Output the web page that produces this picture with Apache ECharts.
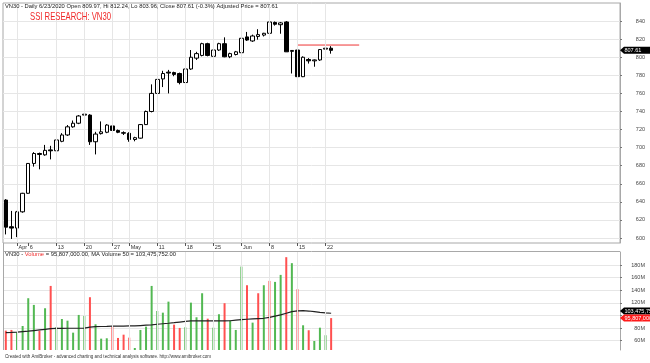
<!DOCTYPE html>
<html><head><meta charset="utf-8">
<script src="https://cdn.jsdelivr.net/npm/echarts@6/dist/echarts.min.js"></script>
<style>html,body{margin:0;padding:0;background:#fff}#c{width:650px;height:363px}</style>
</head><body><div id="c"></div>
<script>
// ---------------- DATA ----------------
const dates = ['3/30','3/31','4/1','4/3','4/6','4/7','4/8','4/9','4/10','4/13','4/14','4/15','4/16','4/17',
  '4/20','4/21','4/22','4/23','4/24','4/27','4/28','4/29','5/4','5/5','5/6','5/7','5/8','5/11','5/12','5/13',
  '5/14','5/15','5/18','5/19','5/20','5/21','5/22','5/25','5/26','5/27','5/28','5/29','6/1','6/2','6/3','6/4',
  '6/5','6/8','6/9','6/10','6/11','6/12','6/15','6/16','6/17','6/18','6/19','6/22','6/23'];
const open  = [642,612.5,611,629,649.5,682.5,693.5,692,697.5,696.5,707,714,723,727,736,736,706.5,715.5,717,724,
  719,716.5,715.8,709,710.5,725.5,740,760,776,783.5,783,782,772,787,799,802,815,801,808,815,
  800.5,803,805,822.5,818,823,824.5,826.5,838.5,836,839,806.5,808,778.5,797.5,796,797,809,809.97];
const high  = [643,630,630,650,683,695,694.5,703,702,714,716,725,730,736,742,737,717.5,729,726,735,
  720,718,717,712,726,741,770,776,785,786,784,783,788,808,806,816,816,809,816,822,
  805,807,822,828,825,831,827,845.5,839.5,839,840,808,809,801,799,797.5,809,812,812.24];
const low   = [604,599,601,628,649,679,676,691,687,696,706,713,722,726,732,703,692.5,714.5,716,717,
  716,714,706.5,707,710,725,739,759,767,760,779,770,770,786,797,801,801,799,807,800,
  799,802,804,818,817,819.5,823,825,835,826,806,782,778,778,793,789.5,796,807,803.96];
const close = [612,611,629,649.5,682.5,693.5,692.5,697,696.5,708.5,714,723,727,735,737,706.5,715,717.5,725,719,
  717,716,709,711,725.5,740,760,775.5,782,782.5,781,772,787,800,804,815,802,808,815,800.5,
  804,806,821,819,823.5,825,826.5,839,836.5,838,806,807.5,778.5,800,796,797,808.5,810,807.61];
// volume in millions of shares
const volume = [75.9,77,72.7,83.3,127.3,116.7,75.9,111.4,146.8,81.3,94.4,91.7,72.7,100.8,99.2,128.9,86,63.2,63.8,82.2,
  64.3,69.5,64.8,48.4,77,82.2,146.8,107.1,104.4,121.9,85.4,80.2,81.3,120.3,97.1,135.2,94.9,80.6,101.9,119.4,
  91.7,77,177.5,147.9,88.6,135.2,147.9,154.8,153.2,164.3,192.4,182.9,141.6,84.4,76.5,59.5,80.6,68.6,95.807];
const volumeMA50 = [72.7,73,73.5,74.3,75,76,77,78,79,79.5,79.6,79.7,79.7,79.7,80,81.5,82.2,82.5,82.7,83,
  83,83.2,83.3,83.3,84,84.5,85,86,86.8,87.6,88.5,89.5,90.5,91.3,91.3,91.3,91.4,91.4,91.5,91.5,
  91.6,92.5,93.3,94,94.5,95,95.5,97,99,100.8,103.5,106,107.2,107.6,107,106,105,104.2,103.475];
// u = green bar, d = red bar
const volumeDir = 'dduuuududu' + 'uuuuuduuud' + 'ddduuuuuuu' + 'dduuuuduud' + 'uuudududuu' + 'dududuuud';
const priceTicks = [600,620,640,660,680,700,720,740,760,780,800,820,840];
const volumeTicks = [60,80,100,120,140,160,180];
const volumeLabelTicks = [60,80,120,140,160,180];
const dateTicks = ['4/1','4/6','4/13','4/20','4/27','5/4','5/11','5/18','5/25','6/1','6/8','6/15','6/22'];
const dateTickText = ['Apr','6','13','20','27','May','11','18','25','Jun','8','15','22'];
const gridDates = ['4/1','4/13','4/20','4/27','5/4','5/11','5/18','5/25','6/1','6/8','6/15','6/22'];
const resistanceLevel = 813.5;
const resistanceFrom = 52;   // category slot index (6/15)
const resistanceTo = 63;     // category slot index (empty future slot)
const lastClose = 807.61;
const headerText = 'VN30 - Daily 6/23/2020 Open 809.97, Hi 812.24, Lo 803.96, Close 807.61 (-0.3%) Adjusted Price = 807.61';
const titleText = 'SSI RESEARCH: VN30';
const volHeadA = 'VN30 - ', volHeadB = 'Volume', volHeadC = ' = 95,807,000.00, MA Volume 50 = 103,475,752.00';
const volumeTagText = '95,807,000.00', maTagText = '103,475,752.00';
const footerText = 'Created with AmiBroker - advanced charting and technical analysis software. http://www.amibroker.com';

// ---------------- CHART ----------------
const FONT = '"Liberation Sans", Arial, sans-serif';
const N_SLOTS = 110;
const cats = dates.concat(Array.from({length: N_SLOTS - dates.length}, (_, i) => '_' + i));
const candleData = dates.map((d, i) => [open[i], close[i], low[i], high[i]]);
const volData = volume.map((v, i) => ({value: v, itemStyle: {color: volumeDir[i] === 'u' ? '#52b852' : '#ff5050'}}));
const tickSet = new Set(dateTicks);
const nulls = cats.map(() => null);

function measure(text, size) {
  const c = document.createElement('canvas').getContext('2d');
  c.font = size + 'px ' + FONT;
  return c.measureText(text).width;
}
function fitText(text, x, y, size, targetW, fill, extra) {
  const s = targetW / measure(text, size);
  return Object.assign({type: 'text', x: x, y: y, scaleX: s, z: 100,
    style: {text: text, fill: fill, fontSize: size, fontFamily: FONT, align: 'left', verticalAlign: 'middle'}}, extra || {});
}

const chart = echarts.init(document.getElementById('c'));
const gridLineStyle = {color: '#e6e6e6', width: 1, type: 'solid'};
chart.setOption({
  animation: false,
  backgroundColor: '#ffffff',
  grid: [
    {left: 3, top: 3, width: 617, height: 240, show: true, borderColor: '#a8a8a8', borderWidth: 1},
    {left: 3, top: 252, width: 617, height: 98, show: false}
  ],
  xAxis: [
    {type: 'category', gridIndex: 0, data: cats, boundaryGap: true,
      axisLine: {show: false},
      axisTick: {show: true, alignWithLabel: true, interval: (i, v) => tickSet.has(v), length: 3, lineStyle: {color: '#555'}},
      axisLabel: {show: true, interval: (i, v) => tickSet.has(v), formatter: v => dateTickText[dateTicks.indexOf(v)],
        fontSize: 5.5, color: '#333', align: 'left', margin: 1.5, padding: [0, 0, 0, 1.5], fontFamily: FONT},
      splitLine: {show: false}},
    {type: 'category', gridIndex: 1, data: cats, boundaryGap: true,
      axisLine: {show: false}, axisTick: {show: false}, axisLabel: {show: false}, splitLine: {show: false}}
  ],
  yAxis: [
    {type: 'value', gridIndex: 0, position: 'right', min: 594.5, max: 860, scale: true,
      axisLine: {show: true, lineStyle: {color: '#a8a8a8'}},
      axisTick: {show: true, length: 2, customValues: priceTicks, lineStyle: {color: '#777'}},
      axisLabel: {customValues: priceTicks, fontSize: 5.5, color: '#444', align: 'right', margin: 25, fontFamily: FONT},
      splitLine: {show: true, lineStyle: gridLineStyle}},
    {type: 'value', gridIndex: 1, position: 'right', min: 45.2, max: 200.6, scale: true,
      axisLine: {show: true, lineStyle: {color: '#a8a8a8'}},
      axisTick: {show: true, length: 2, customValues: volumeTicks, lineStyle: {color: '#777'}},
      axisLabel: {customValues: volumeLabelTicks, formatter: v => v + 'M', fontSize: 5.5, color: '#444', align: 'right', margin: 25, fontFamily: FONT},
      splitLine: {show: true, lineStyle: gridLineStyle}}
  ],
  series: [
    {type: 'line', xAxisIndex: 0, yAxisIndex: 0, data: nulls, z: 1, silent: true, showSymbol: false,
      markLine: {silent: true, symbol: 'none', label: {show: false}, lineStyle: gridLineStyle, animation: false,
        data: gridDates.map(d => ({xAxis: d}))}},
    {type: 'line', xAxisIndex: 1, yAxisIndex: 1, data: nulls, z: 1, silent: true, showSymbol: false,
      markLine: {silent: true, symbol: 'none', label: {show: false}, lineStyle: gridLineStyle, animation: false,
        data: gridDates.map(d => ({xAxis: d}))}},
    {type: 'candlestick', xAxisIndex: 0, yAxisIndex: 0, data: candleData, barWidth: 4, z: 3,
      itemStyle: {color: '#ffffff', color0: '#000000', borderColor: '#000000', borderColor0: '#000000', borderWidth: 1}},
    {type: 'line', xAxisIndex: 0, yAxisIndex: 0, z: 4, showSymbol: false, symbol: 'none',
      data: [[resistanceFrom, resistanceLevel], [resistanceTo, resistanceLevel]],
      lineStyle: {color: '#ee3535', width: 1}},
    {type: 'bar', xAxisIndex: 1, yAxisIndex: 1, data: volData, barWidth: 2, z: 3},
    {type: 'line', xAxisIndex: 1, yAxisIndex: 1, data: volumeMA50, showSymbol: false, symbol: 'none', z: 4,
      lineStyle: {color: '#222', width: 1.2}}
  ]
});

// tags & texts
const yPrice = chart.convertToPixel({yAxisIndex: 0}, lastClose);
let yMA = chart.convertToPixel({yAxisIndex: 1}, volumeMA50[volumeMA50.length - 1]);
const yVol = chart.convertToPixel({yAxisIndex: 1}, volume[volume.length - 1]);
if (yVol - yMA < 7) yMA = yVol - 7;
function tag(y, bg, txt) {
  return [
    {type: 'polygon', z: 100, shape: {points: [[620, y], [624, y - 3.5], [650, y - 3.5], [650, y + 3.5], [624, y + 3.5]]},
      style: {fill: bg}},
    {type: 'text', z: 101, x: 624.5, y: y + 0.3, style: {text: txt, fill: '#fff', fontSize: 5.5, fontFamily: FONT, verticalAlign: 'middle'}}
  ];
}
const vhFull = volHeadA + volHeadB + volHeadC;
const vhScale = 171 / measure(vhFull, 6);
chart.setOption({
  graphic: [
    fitText(headerText, 5, 6.5, 6.2, 273, '#222'),
    fitText(titleText, 30, 17, 10.5, 81, '#f02828'),
    {type: 'line', z: 50, shape: {x1: 3, y1: 251.5, x2: 620, y2: 251.5}, style: {stroke: '#a8a8a8', lineWidth: 1}},
    {type: 'line', z: 50, shape: {x1: 3.5, y1: 243, x2: 3.5, y2: 350}, style: {stroke: '#a8a8a8', lineWidth: 1}},
    {type: 'text', x: 5, y: 254.8, scaleX: vhScale, z: 100,
      style: {text: '{a|' + volHeadA + '}{b|' + volHeadB + '}{a|' + volHeadC + '}', fontSize: 6, fontFamily: FONT, verticalAlign: 'middle',
        rich: {a: {fill: '#222', fontSize: 6, fontFamily: FONT}, b: {fill: '#f03030', fontSize: 6, fontFamily: FONT}}}},
    fitText(footerText, 5, 356.5, 5.5, 206, '#333'),
    ...tag(yPrice, '#000', lastClose.toFixed(2)),
    ...tag(yMA, '#000', maTagText),
    ...tag(yVol, '#ff1a1a', volumeTagText)
  ]
});
</script></body></html>
